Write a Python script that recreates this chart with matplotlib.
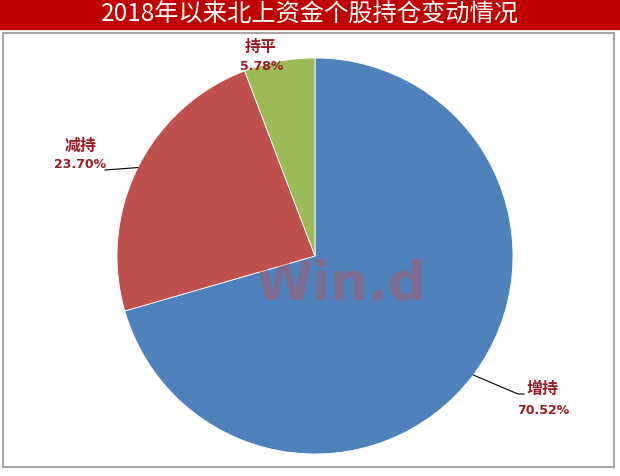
import matplotlib.pyplot as plt
import numpy as np
from matplotlib.patches import Rectangle

plt.rcParams['font.family'] = ['Noto Sans CJK SC', 'DejaVu Sans']

# data
categories = ['增持', '减持', '持平']
shares = [70.52, 23.70, 5.78]
colors = ['#4F81BD', '#C0504D', '#9BBB59']
title = '2018年以来北上资金个股持仓变动情况'

W, H = 620, 476
cx, cy, R = 315, 256, 198   # pie centre / radius in pixels


def px(x, y):
    """pixel (from top-left) -> data coords of the full-figure axes"""
    return (x - cx) / R, (cy - y) / R


fig = plt.figure(figsize=(W / 100, H / 100), dpi=100)
ax = fig.add_axes([0, 0, 1, 1])

wedges, _ = ax.pie(shares, colors=colors, startangle=90, counterclock=False,
                   wedgeprops=dict(edgecolor='white', linewidth=0.6))

ax.set_xlim(px(0, 0)[0], px(W, 0)[0])
ax.set_ylim(px(0, H)[1], px(0, 0)[1])
ax.set_aspect('auto')
ax.axis('off')

# title bar and chart border
x0, y0 = px(0, 0)
ax.add_patch(Rectangle((x0, px(0, 29)[1]), W / R, 29 / R, color='#C00000',
                       zorder=0, clip_on=False))
ax.text(*px(W / 2, 15), title, color='white', fontsize=17.5,
        ha='center', va='center')
bx, by = px(3, 467)
ax.add_patch(Rectangle((bx, by), 611 / R, 434 / R, fill=False,
                       edgecolor='#A6A6A6', linewidth=1.5, zorder=0))

# watermark
ax.text(*px(340, 284), 'Win.d', color='#C0504D', alpha=0.4, fontsize=38,
        fontweight='bold', ha='center', va='center', family='DejaVu Sans')

# labels: name position, percent position, leader end (pixels)
lab_color = '#9C1C24'
name_pos = {'增持': (543, 389), '减持': (81, 146), '持平': (261, 47)}
pct_pos = {'增持': (543, 410), '减持': (80, 165), '持平': (262, 66)}
leader_end = {'增持': (518, 394), '减持': (105, 170), '持平': None}

for w, name, val in zip(wedges, categories, shares):
    ang = np.deg2rad((w.theta1 + w.theta2) / 2)
    ex, ey = np.cos(ang), np.sin(ang)
    ax.text(*px(*name_pos[name]), name, color=lab_color, fontsize=11.5,
            fontweight='bold', ha='center', va='center')
    ax.text(*px(*pct_pos[name]), f'{val:.2f}%', color=lab_color, fontsize=9,
            fontweight='bold', ha='center', va='center', family='DejaVu Sans')
    if leader_end[name] is not None:
        tx, ty = px(*leader_end[name])
        if name == '增持':
            ax.plot([ex, tx, tx + 6 / R], [ey, ty, ty], color='black', lw=0.8)
        else:
            ax.plot([ex, tx], [ey, ty], color='black', lw=0.8)

fig.savefig('out.png', dpi=100)
